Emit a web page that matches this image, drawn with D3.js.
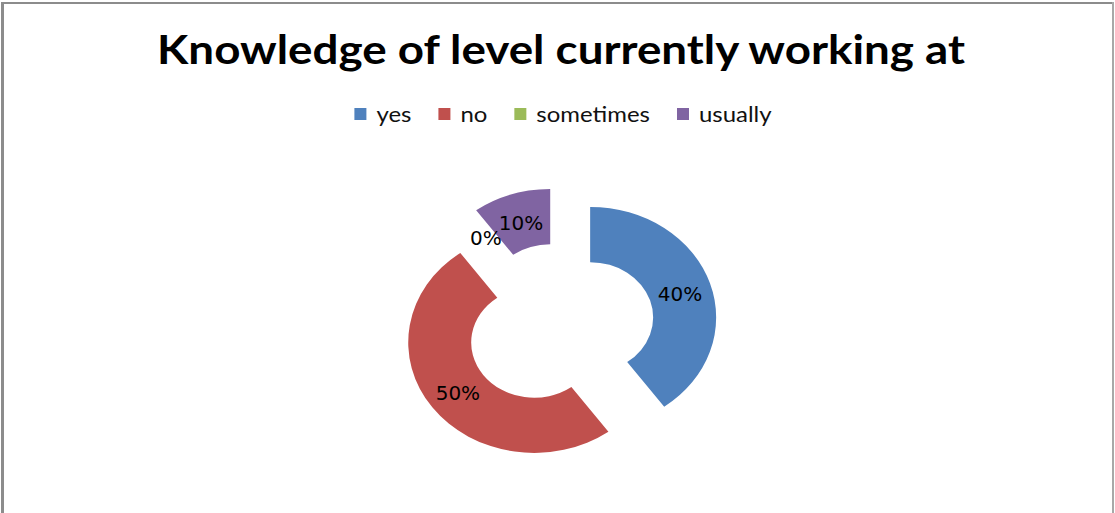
<!DOCTYPE html>
<html>
<head>
<meta charset="utf-8">
<script src="https://cdn.jsdelivr.net/npm/d3@7"></script>
<style>
  html, body { margin: 0; padding: 0; background: #ffffff; }
  svg { display: block; }
</style>
</head>
<body>
<script>
// Survey answers and their shares (percent)
const categories = ["yes", "no", "sometimes", "usually"];
const values = [40, 50, 0, 10];
const valueLabels = ["40%", "50%", "0%", "10%"];
const colors = ["#4F81BD", "#C0504D", "#9BBB59", "#8064A2"];
const title = "Knowledge of level currently working at";

const W = 1115, H = 513;
const svg = d3.select("body").append("svg").attr("width", W).attr("height", H);

svg.append("rect").attr("width", W).attr("height", H).attr("fill", "#ffffff");

// frame of the chart area
svg.append("line").attr("x1", 1).attr("x2", 1114).attr("y1", 3).attr("y2", 3)
  .attr("stroke", "#8c8c8c").attr("stroke-width", 2);
svg.append("line").attr("x1", 2.5).attr("x2", 2.5).attr("y1", 2).attr("y2", H)
  .attr("stroke", "#8c8c8c").attr("stroke-width", 3);
svg.append("line").attr("x1", 1113).attr("x2", 1113).attr("y1", 2).attr("y2", H)
  .attr("stroke", "#a8a8a8").attr("stroke-width", 2);

// title
svg.append("text")
  .attr("x", 157).attr("y", 64)
  .attr("font-family", "Lato, 'Open Sans', sans-serif")
  .attr("font-weight", "bold").attr("font-size", 41)
  .attr("fill", "#000")
  .attr("textLength", 808).attr("lengthAdjust", "spacingAndGlyphs")
  .text(title);

// legend, centred under the title
const legend = svg.append("g");
const legendItems = legend.selectAll("g").data(categories).join("g");
legendItems.append("rect")
  .attr("width", 12).attr("height", 12).attr("y", 108)
  .attr("fill", (d, i) => colors[i]);
const legendTexts = legendItems.append("text")
  .attr("y", 121.5)
  .attr("font-family", "Lato, 'Open Sans', sans-serif")
  .attr("font-size", 21).attr("fill", "#111")
  .text(d => d);
const stretch = 1.14, sqGap = 10, itemGap = 27;
let cursor = 0;
legendTexts.each(function () {
  const w = this.getComputedTextLength() * stretch;
  d3.select(this).attr("textLength", w).attr("lengthAdjust", "spacingAndGlyphs");
  const g = d3.select(this.parentNode);
  g.select("rect").attr("x", cursor);
  d3.select(this).attr("x", cursor + 12 + sqGap);
  cursor += 12 + sqGap + w + itemGap;
});
const legendWidth = cursor - itemGap;
legend.attr("transform", `translate(${563 - legendWidth / 2},0)`);

// exploded doughnut, drawn slightly flattened vertically
const cx = 560, cy = 326, squash = 0.877;
const outerR = 126, innerR = 63, explode = 31.7;

const pie = d3.pie().sort(null).value(d => d.value);
const arcs = pie(categories.map((c, i) => ({ name: c, value: values[i], i })));
const arc = d3.arc().innerRadius(innerR).outerRadius(outerR);

const ring = svg.append("g").attr("transform", `translate(${cx},${cy}) scale(1,${squash})`);
ring.selectAll("path").data(arcs).join("path")
  .attr("d", arc)
  .attr("fill", d => colors[d.data.i])
  .attr("transform", d => {
    const mid = (d.startAngle + d.endAngle) / 2;
    return `translate(${explode * Math.sin(mid)},${-explode * Math.cos(mid)})`;
  });

// value labels at the middle of each ring segment
const labelR = (innerR + outerR) / 2 + explode;
svg.append("g").selectAll("text").data(arcs).join("text")
  .attr("x", d => cx + labelR * Math.sin((d.startAngle + d.endAngle) / 2))
  .attr("y", d => cy - squash * labelR * Math.cos((d.startAngle + d.endAngle) / 2) + 2)
  .attr("text-anchor", "middle")
  .attr("dominant-baseline", "central")
  .attr("font-family", "'DejaVu Sans', sans-serif")
  .attr("font-size", 20).attr("fill", "#000")
  .text(d => valueLabels[d.data.i]);
</script>
</body>
</html>
